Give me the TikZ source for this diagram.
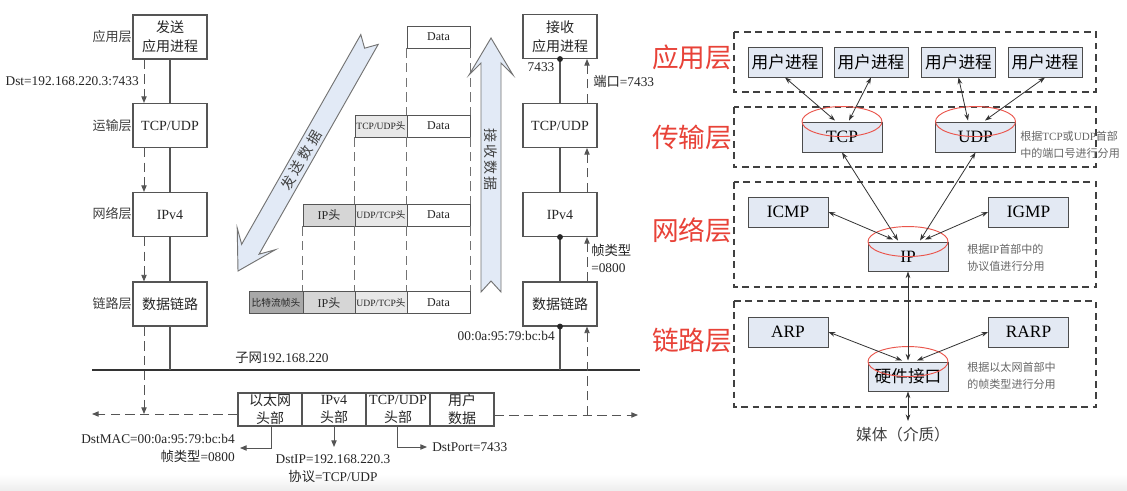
\documentclass[tikz,border=0pt]{standalone}
\usepackage{fontspec}
\setmainfont{Liberation Serif}
\newfontfamily\cjk{Noto Sans CJK SC}
\usetikzlibrary{calc,arrows.meta}
\newcommand\zh[1]{{\cjk #1}}
\definecolor{lred}{RGB}{232,66,56}
\definecolor{boxfill}{RGB}{227,233,243}
\definecolor{arrfill}{RGB}{226,234,246}
\definecolor{ln}{RGB}{85,85,85}
\definecolor{hdA}{RGB}{232,232,232}
\definecolor{hdB}{RGB}{214,214,214}
\definecolor{hdC}{RGB}{168,168,168}
\begin{document}
\begin{tikzpicture}[x=0.75pt,y=-0.75pt,
  every node/.style={inner sep=0pt},
  lbox/.style={draw=ln,line width=0.8pt,minimum width=55.5pt,minimum height=33pt,align=center,font=\fontsize{10.5}{14}\selectfont,text=black!85},
  cell/.style={draw=ln,line width=0.7pt,minimum height=16.5pt,font=\fontsize{9}{9}\selectfont,text=black!85},
  pcell/.style={draw=ln,line width=0.8pt,minimum width=48pt,minimum height=24.75pt,align=center,font=\fontsize{10.5}{13.5}\selectfont,text=black!85},
  lab/.style={font=\fontsize{10}{13.5}\selectfont,text=black!85},
  llab/.style={font=\cjk\fontsize{9.8}{11}\selectfont,text=black!75,anchor=east},
  dsh/.style={dash pattern=on 7pt off 4pt},
  tip/.style={-{Triangle[length=5pt,width=4pt]}},
  rbox/.style={draw=black!70,fill=boxfill,line width=0.7pt,minimum height=22.5pt,font=\fontsize{13}{15}\selectfont},
  redl/.style={text=lred,font=\cjk\fontsize{20}{22}\selectfont},
  dbox/.style={draw=black!75,line width=0.9pt,dash pattern=on 5pt off 3.5pt},
  ell/.style={draw=lred!90,line width=0.7pt},
  dbl/.style={{Stealth[length=5pt,width=3.5pt]}-{Stealth[length=5pt,width=3.5pt]},draw=black!80,line width=0.6pt},
  note/.style={font=\cjk\fontsize{8.3}{12.75}\selectfont,text=black!60,align=left,anchor=west},
  bigarr/.style={fill=arrfill,draw=black!55,line width=0.7pt},
]
\useasboundingbox (0,0) rectangle (1127,491);
\fill[white] (0,0) rectangle (1127,491);
\shade[top color=white,bottom color=gray!14] (0,474) rectangle (1127,491);

% ---------- sender column ----------
\node[lbox] (s1) at (170,37) {\zh{发送}\\\zh{应用进程}};
\node[lbox] (s2) at (170,125.5) {TCP/UDP};
\node[lbox] (s3) at (170,214.5) {IPv4};
\node[lbox] (s4) at (170,304) {\zh{数据链路}};
\node[llab] (l1) at (132,37) {应用层};
\node[llab] (l2) at (132,126) {运输层};
\node[llab] (l3) at (132,214) {网络层};
\node[llab] (l4) at (132,304) {链路层};
\foreach \a/\b in {s1/s2,s2/s3,s3/s4}{
  \draw[dsh,tip,ln,line width=0.7pt] ($(\a.south)+(-26,0)$) -- ($(\b.north)+(-26,0)$);
  \draw[ln,line width=0.8pt] (\a.south) -- (\b.north);
}
\node[lab,anchor=east] (dst) at (139,81) {Dst=192.168.220.3:7433};

% bus
\coordinate (busL) at (92,370);
\coordinate (busR) at (640,370);
\draw[line width=1.6pt,black!80] (busL) -- (busR);
\draw[ln,line width=0.8pt] (s4.south) -- (s4.south |- busL);
\node[lab,anchor=west] (subnet) at (235,358) {\zh{子网}192.168.220};

% packet
\node[pcell] (p1) at (270,409.5) {\zh{以太网}\\\zh{头部}};
\node[pcell] (p2) at (334,409.5) {IPv4\\\zh{头部}};
\node[pcell] (p3) at (398,409.5) {TCP/UDP\\\zh{头部}};
\node[pcell] (p4) at (462,409.5) {\zh{用户}\\\zh{数据}};
\coordinate (wl) at (92,414);
\coordinate (sd) at (144,414);
\coordinate (wr) at (638,415);
\coordinate (rv) at (587,415);
\draw[dsh,ln,tip,line width=0.7pt] (p1.west |- wl) -- (wl);
\draw[dsh,ln,tip,line width=0.7pt] ($(s4.south)+(-26,0)$) -- (sd);
\draw[dsh,ln,tip,line width=0.7pt] (p4.east |- wr) -- (wr);

\coordinate (macpt) at (240,448);
\draw[ln,tip,line width=0.7pt] ($(p1.south)+(1,0)$) |- (macpt);
\node[lab,anchor=east,align=right] (mac) at (235,448) {DstMAC=00:0a:95:79:bc:b4\\\zh{帧类型}=0800};
\coordinate (ippt) at (334,447);
\draw[ln,tip,line width=0.7pt] (p2.south) -- (ippt);
\node[lab,align=center] (dstip) at (333,468.5) {DstIP=192.168.220.3\\\zh{协议}=TCP/UDP};
\coordinate (portpt) at (427,447);
\draw[ln,tip,line width=0.7pt] ($(p3.south)+(-1,0)$) |- (portpt);
\node[lab,anchor=west] (port) at (432,447) {DstPort=7433};

% ---------- receiver column ----------
\node[lbox] (r1) at (560,36.5) {\zh{接收}\\\zh{应用进程}};
\node[lbox] (r2) at (560,125.5) {TCP/UDP};
\node[lbox] (r3) at (560,214.5) {IPv4};
\node[lbox] (r4) at (560,304) {\zh{数据链路}};
\foreach \a/\b in {r1/r2,r2/r3,r3/r4}{
  \draw[ln,line width=0.8pt] (\a.south) -- (\b.north);
  \draw[dsh,tip,ln,line width=0.7pt] ($(\b.north)+(27,0)$) -- ($(\a.south)+(27,0)$);
}
\draw[ln,line width=0.8pt] (r4.south) -- (r4.south |- busL);
\draw[dsh,ln,tip,line width=0.7pt] (rv) -- ($(r4.south)+(27,0)$);
\fill[black!85] (r1.south) circle (2.2pt);
\fill[black!85] (r3.south) circle (2.2pt);
\fill[black!85] (r4.south) circle (2.2pt);
\node[lab] (p7433) at (541,67) {7433};
\node[lab,anchor=west] (port2) at (593,81) {\zh{端口}=7433};
\node[lab,anchor=west,align=left,font=\fontsize{10}{12.75}\selectfont] (ft) at (591,258.5) {\zh{帧类型}\\=0800};
\node[lab,anchor=east] (mac2) at (555,336) {00:0a:95:79:bc:b4};

% ---------- middle data rows ----------
\node[cell,minimum width=47.25pt] (d1) at (438.5,37) {Data};
\node[cell,minimum width=47.25pt] (d2) at (438.5,126) {Data};
\node[cell,minimum width=39pt,fill=hdA,font=\fontsize{7.2}{8}\selectfont] (h2) at (381,126) {TCP/UDP\zh{头}};
\node[cell,minimum width=47.25pt] (d3) at (438.5,215) {Data};
\node[cell,minimum width=39pt,fill=hdA,font=\fontsize{7.2}{8}\selectfont] (h3) at (381,215) {UDP/TCP\zh{头}};
\node[cell,minimum width=39pt,fill=hdB] (ip3) at (329,215) {IP\zh{头}};
\node[cell,minimum width=47.25pt] (d4) at (438.5,302.5) {Data};
\node[cell,minimum width=39pt,fill=hdA,font=\fontsize{7.2}{8}\selectfont] (h4) at (381,302.5) {UDP/TCP\zh{头}};
\node[cell,minimum width=39pt,fill=hdB] (ip4) at (329,302.5) {IP\zh{头}};
\node[cell,minimum width=40.5pt,fill=hdC,font=\cjk\fontsize{7.3}{8}\selectfont] (fh4) at (276,302.5) {比特流帧头};
\begin{scope}[dsh,draw=black!55,line width=0.7pt]
\draw (d1.south west) -- (d2.north west);
\draw (d1.south east) -- (d2.north east);
\draw (h2.south west) -- (h3.north west);
\draw (d2.south west) -- (d3.north west);
\draw (d2.south east) -- (d3.north east);
\draw (ip3.south west) -- (ip4.north west);
\draw (h3.south west) -- (h4.north west);
\draw (d3.south west) -- (d4.north west);
\draw (d3.south east) -- (d4.north east);
\end{scope}

% big arrows
\filldraw[bigarr] (360.8,34.6) -- (364.6,48.2) -- (378.2,44.4) -- (259.05,254.2) -- (275.4,249.7) -- (238,271) -- (237.2,227.9) -- (241.65,244.3) -- cycle;
\node[rotate=60,font=\cjk\fontsize{10.5}{11}\selectfont,text=black!75] (send) at (301,160) {发\hspace{2.5pt}送\hspace{2.5pt}数\hspace{2.5pt}据};
\filldraw[bigarr] (491,38) -- (513,75) -- (501,63) -- (501,292) -- (491,281) -- (481,292) -- (481,63) -- (469,75) -- cycle;
\node[rotate=-90,font=\cjk\fontsize{10.5}{11}\selectfont,text=black!75] (recv) at (491,160) {接\hspace{1.5pt}收\hspace{1.5pt}数\hspace{1.5pt}据};

% ---------- right diagram ----------
\node[redl] (La) at (692,57) {应用层};
\node[redl] (Lb) at (692,137) {传输层};
\node[redl] (Lc) at (692,230) {网络层};
\node[redl] (Ld) at (692,340) {链路层};
\draw[dbox] (734,32) rectangle (1096,92);
\draw[dbox] (734,107) rectangle (1096,167);
\draw[dbox] (734,182) rectangle (1096,287);
\draw[dbox] (734,301) rectangle (1096,407);

\foreach \n/\x in {u1/785,u2/871,u3/958.5,u4/1045}{
  \node[rbox,minimum width=55.5pt,font=\cjk\fontsize{12.5}{14}\selectfont] (\n) at (\x,62) {用户进程};
}
\node[rbox,minimum width=60pt] (tcp) at (842,137) {TCP};
\node[rbox,minimum width=60pt] (udp) at (975.5,137) {UDP};
\node[rbox,minimum width=60pt] (icmp) at (788,212) {ICMP};
\node[rbox,minimum width=60pt] (igmp) at (1028.5,212) {IGMP};
\node[rbox,minimum width=60pt,minimum height=21.75pt] (ip) at (908,256.5) {IP};
\node[rbox,minimum width=60pt] (arp) at (788,332) {ARP};
\node[rbox,minimum width=60pt] (rarp) at (1028.5,332) {RARP};
\node[rbox,minimum width=60pt,minimum height=21.75pt,font=\cjk\fontsize{12.5}{14}\selectfont] (hw) at (908,376.5) {硬件接口};
\draw[ell] (tcp.north) ellipse [x radius=30pt, y radius=11.25pt];
\draw[ell] (udp.north) ellipse [x radius=30pt, y radius=11.25pt];
\draw[ell] (ip.north) ellipse [x radius=30pt, y radius=11.25pt];
\draw[ell] (hw.north) ellipse [x radius=30pt, y radius=11.25pt];

\draw[dbl] (u1.south) -- ($(tcp.north)+(-7,-1)$);
\draw[dbl] (u2.south) -- ($(tcp.north)+(7,-1)$);
\draw[dbl] (u3.south) -- ($(udp.north)+(-7.5,-1)$);
\draw[dbl] (u4.south) -- ($(udp.north)+(9.5,-1)$);
\draw[dbl] (tcp.south) -- ($(ip.north)+(-10,-1)$);
\draw[dbl] (udp.south) -- ($(ip.north)+(12,-1)$);
\draw[dbl] (icmp.east) -- ($(ip.north)+(-15,-2)$);
\draw[dbl] (igmp.west) -- ($(ip.north)+(17,-2)$);
\draw[dbl] (ip.south) -- ($(hw.north)+(0,-1)$);
\draw[dbl] (arp.east) -- ($(hw.north)+(-6,-1)$);
\draw[dbl] (rarp.west) -- ($(hw.north)+(9,-1)$);
\coordinate (med) at (908,421);
\draw[dbl] (hw.south) -- (med);
\node[font=\cjk\fontsize{11.7}{14}\selectfont,text=black!75] (mt) at (903,435) {媒体（介质）};

\node[note] (n1) at (1020,144.5) {根据{\rmfamily TCP}或{\rmfamily UDP}首部\\中的端口号进行分用};
\node[note] (n2) at (967,257.5) {根据{\rmfamily IP}首部中的\\协议值进行分用};
\node[note] (n3) at (967,375.5) {根据以太网首部中\\的帧类型进行分用};
\end{tikzpicture}
\end{document}
